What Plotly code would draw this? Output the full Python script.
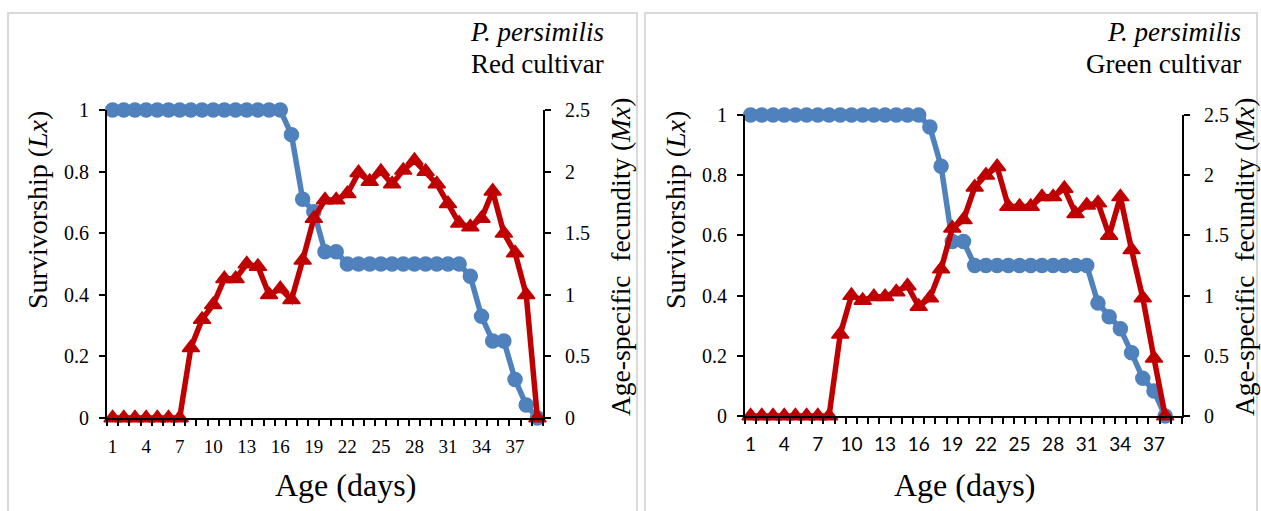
import plotly.graph_objects as go

# ---------------- data ----------------
days_red = list(range(1, 40))
lx_red = [1, 1, 1, 1, 1, 1, 1, 1, 1, 1, 1, 1, 1, 1, 1, 1,
          0.92, 0.71, 0.67, 0.54, 0.54,
          0.5, 0.5, 0.5, 0.5, 0.5, 0.5, 0.5, 0.5, 0.5, 0.5, 0.5,
          0.46, 0.33, 0.25, 0.25, 0.125, 0.042, 0]
mx_red = [0, 0, 0, 0, 0, 0, 0,
          0.57, 0.8, 0.92, 1.13, 1.13, 1.25, 1.23, 1.0, 1.05, 0.96, 1.28,
          1.62, 1.77, 1.77, 1.82, 1.99, 1.92, 2.0, 1.9, 2.01, 2.09, 2.0,
          1.9, 1.74, 1.58, 1.55, 1.62, 1.84, 1.5, 1.34, 1.0, 0]

days_green = list(range(1, 39))
lx_green = [1, 1, 1, 1, 1, 1, 1, 1, 1, 1, 1, 1, 1, 1, 1, 1,
            0.96, 0.83, 0.58, 0.58,
            0.5, 0.5, 0.5, 0.5, 0.5, 0.5, 0.5, 0.5, 0.5, 0.5, 0.5,
            0.375, 0.33, 0.29, 0.21, 0.125, 0.083, 0]
mx_green = [0, 0, 0, 0, 0, 0, 0, 0,
            0.68, 1.0, 0.96, 0.99, 0.99, 1.03, 1.08, 0.91, 0.98, 1.22,
            1.56, 1.63, 1.9, 2.0, 2.07, 1.74, 1.74, 1.74, 1.82, 1.82, 1.89,
            1.68, 1.75, 1.77, 1.5, 1.82, 1.38, 0.98, 0.48, 0]

x_ticks = [1, 4, 7, 10, 13, 16, 19, 22, 25, 28, 31, 34, 37]
lx_ticks = [0, 0.2, 0.4, 0.6, 0.8, 1]
lx_labels = ["0", "0.2", "0.4", "0.6", "0.8", "1"]
mx_ticks = [0, 0.5, 1, 1.5, 2, 2.5]
mx_labels = ["0", "0.5", "1", "1.5", "2", "2.5"]

# ---------------- style ----------------
W, H = 1261, 511
BLUE = "#4F81BD"
RED = "#C00000"
SERIF = "'Liberation Serif', 'Times New Roman', Tinos, 'DejaVu Serif', serif"
SANS = "Lato, 'Open Sans', 'Liberation Sans', sans-serif"

def px_x(p):
    return p / W

def px_y(p):
    return 1 - p / H

fig = go.Figure()

panels = [
    dict(days=days_red, lx=lx_red, mx=mx_red, xa="x", ya="y", ya2="y2",
         x0=107, x1=543, ytop=110, ybot=418, xfont=SERIF,
         cultivar="Red cultivar", tx=606, ttl_l=37, ttl_r=620, xt=345),
    dict(days=days_green, lx=lx_green, mx=mx_green, xa="x2", ya="y3", ya2="y4",
         x0=745, x1=1182, ytop=115, ybot=416, xfont=SANS,
         cultivar="Green cultivar", tx=1243, ttl_l=675, ttl_r=1244, xt=965),
]

for i, p in enumerate(panels):
    fig.add_trace(go.Scatter(
        x=p["days"], y=p["lx"], xaxis=p["xa"], yaxis=p["ya"],
        mode="lines+markers", line=dict(color=BLUE, width=5.5),
        marker=dict(symbol="circle", size=14, color=BLUE,
                    line=dict(color=BLUE, width=1.5)),
        showlegend=False, cliponaxis=False, hoverinfo="skip"))
    fig.add_trace(go.Scatter(
        x=p["days"], y=p["mx"], xaxis=p["xa"], yaxis=p["ya2"],
        mode="lines+markers", line=dict(color=RED, width=5.5),
        marker=dict(symbol="triangle-up", size=15, color=RED,
                    line=dict(color=RED, width=1.5)),
        showlegend=False, cliponaxis=False, hoverinfo="skip"))

layout = dict(
    width=W, height=H,
    margin=dict(l=0, r=0, t=0, b=0, autoexpand=False),
    paper_bgcolor="white", plot_bgcolor="rgba(0,0,0,0)",
    showlegend=False,
)

axis_common = dict(showgrid=False, zeroline=False, showline=True,
                   linecolor="black", linewidth=2)

for i, p in enumerate(panels):
    xname = "xaxis" if i == 0 else "xaxis2"
    y1name = "yaxis" if i == 0 else "yaxis3"
    y2name = "yaxis2" if i == 0 else "yaxis4"
    ya_id = p["ya"]
    xdom = [px_x(p["x0"]), px_x(p["x1"])]
    ydom = [px_y(p["ybot"]), px_y(p["ytop"])]
    layout[xname] = dict(
        axis_common, domain=xdom, anchor=ya_id, range=[0.5, 39.5],
        tickmode="array", tickvals=x_ticks, ticktext=[str(t) for t in x_ticks],
        ticks="", ticklabelstandoff=10,
        tickfont=dict(family=p["xfont"], size=19, color="black"),
        minor=dict(tickmode="linear", tick0=0.5, dtick=1, ticks="outside",
                   ticklen=6, tickwidth=2, tickcolor="black"),
    )
    layout[y1name] = dict(
        axis_common, domain=ydom, anchor=p["xa"], range=[0, 1],
        tickmode="array", tickvals=lx_ticks, ticktext=lx_labels,
        ticks="outside", ticklen=6, tickwidth=2, tickcolor="black",
        ticklabelstandoff=6,
        tickfont=dict(family=SERIF, size=20, color="black"),
    )
    layout[y2name] = dict(
        axis_common, domain=ydom, anchor=p["xa"], overlaying=ya_id,
        side="right", range=[0, 2.5],
        tickmode="array", tickvals=mx_ticks, ticktext=mx_labels,
        ticks="outside", ticklen=6, tickwidth=2, tickcolor="black",
        ticklabelstandoff=10,
        tickfont=dict(family=SERIF, size=20, color="black"),
    )

fig.update_layout(**layout)

annotations = []
shapes = []
for p in panels:
    annotations += [
        dict(text="<i>P. persimilis</i>", x=px_x(p["tx"]), y=px_y(32),
             xref="paper", yref="paper", xanchor="right", yanchor="middle",
             showarrow=False, font=dict(family=SERIF, size=27, color="black")),
        dict(text=p["cultivar"], x=px_x(p["tx"]), y=px_y(64),
             xref="paper", yref="paper", xanchor="right", yanchor="middle",
             showarrow=False, font=dict(family=SERIF, size=27, color="black")),
        dict(text="Survivorship (<i>Lx</i>)", x=px_x(p["ttl_l"]), y=px_y(210),
             xref="paper", yref="paper", xanchor="center", yanchor="middle",
             textangle=-90, showarrow=False,
             font=dict(family=SERIF, size=28, color="black")),
        dict(text="Age-specific  fecundity (<i>Mx</i>)", x=px_x(p["ttl_r"]),
             y=px_y(257), xref="paper", yref="paper", xanchor="center",
             yanchor="middle", textangle=-90, showarrow=False,
             font=dict(family=SERIF, size=27.5, color="black")),
        dict(text="Age (days)", x=px_x(p["xt"]), y=px_y(485),
             xref="paper", yref="paper", xanchor="center", yanchor="middle",
             showarrow=False, font=dict(family=SERIF, size=32, color="black")),
    ]

shapes += [
    dict(type="rect", xref="paper", yref="paper", x0=px_x(8), x1=px_x(637),
         y0=px_y(520), y1=px_y(13), line=dict(color="#D9D9D9", width=2)),
    dict(type="rect", xref="paper", yref="paper", x0=px_x(645), x1=px_x(1257),
         y0=px_y(520), y1=px_y(13), line=dict(color="#D9D9D9", width=2)),
]

fig.update_layout(annotations=annotations, shapes=shapes, hovermode=False)
fig.write_html(
    "out.html",
    config={"displayModeBar": False, "staticPlot": True},
    post_script="document.body.style.margin='0';document.body.style.overflow='hidden';",
)
